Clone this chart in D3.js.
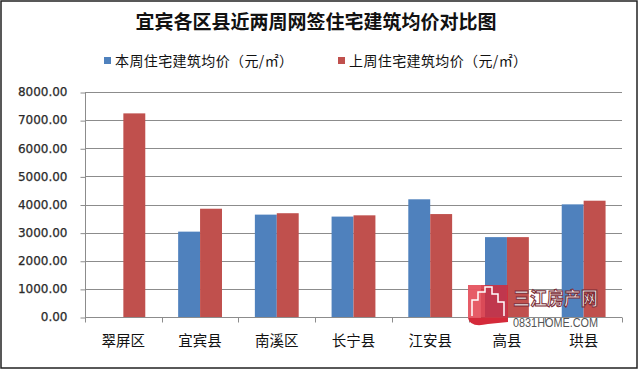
<!DOCTYPE html>
<html><head><meta charset="utf-8">
<script src="https://cdn.jsdelivr.net/npm/d3@7"></script>
<style>body{margin:0;background:#fff}svg{display:block}</style>
</head><body>
<script>
const categories = ["翠屏区","宜宾县","南溪区","长宁县","江安县","高县","珙县"];
const thisWeek = [0, 3035, 3640, 3570, 4185, 2840, 4005];
const lastWeek = [7240, 3850, 3690, 3615, 3660, 2840, 4135];
const seriesNames = ["本周住宅建筑均价（元/㎡）","上周住宅建筑均价（元/㎡）"];
const yTicks = [0,1000,2000,3000,4000,5000,6000,7000,8000];
const title = "宜宾各区县近两周网签住宅建筑均价对比图";
const colors = ["#4F81BD","#C0504D"];

(function(){
const W=640,H=370;
const svg=d3.select("body").append("svg").attr("width",W).attr("height",H);
svg.append("rect").attr("x",1).attr("y",1).attr("width",636).attr("height",367)
  .attr("fill","#fff").attr("stroke","#222").attr("stroke-width",1.5);

const pL=85,pR=622,pT=92,pB=317;
const y=d3.scaleLinear().domain([0,8000]).range([pB,pT]);
const x0=d3.scaleBand().domain(categories).range([pL,pR]).paddingInner(0).paddingOuter(0);

// gridlines
svg.append("g").selectAll("line").data(yTicks.slice(1)).join("line")
  .attr("x1",pL).attr("x2",pR).attr("y1",d=>Math.round(y(d))+0.5).attr("y2",d=>Math.round(y(d))+0.5)
  .attr("stroke","#8c8c8c").attr("stroke-width",1);

// bars
const data=categories.map((c,i)=>({c,v:[thisWeek[i],lastWeek[i]]}));
const bw=x0.bandwidth()/3.5;
const g=svg.append("g");
data.forEach(d=>{
  d.v.forEach((v,j)=>{
    if(v<=0) return;
    const cx=x0(d.c)+x0.bandwidth()/2;
    g.append("rect").attr("x",cx+(j-1)*bw).attr("width",bw)
      .attr("y",y(v)).attr("height",y(0)-y(v)).attr("fill",colors[j]);
  });
});

// y axis
const yAxis=d3.axisLeft(y).tickValues(yTicks).tickFormat(d=>d3.format(".2f")(d)).tickSize(5).tickPadding(13);
const ya=svg.append("g").attr("transform",`translate(${pL+0.5},0)`).call(yAxis);
ya.select(".domain").attr("stroke","#8c8c8c").attr("d",`M0,${Math.round(pT)+0.5}V${pB+0.5}`);
ya.selectAll(".tick line").attr("stroke","#8c8c8c").attr("transform","translate(0,0.5)");
ya.selectAll("text").attr("font-family","DejaVu Sans").attr("font-size",12).attr("fill","#2a2a2a")
  .attr("stroke","#2a2a2a").attr("stroke-width",0.25);

// x axis
const xa=svg.append("g").attr("transform",`translate(0,${pB+0.5})`);
xa.append("line").attr("x1",pL).attr("x2",pR).attr("stroke","#8c8c8c");
const xticks=d3.range(categories.length+1).map(i=>pL+i*x0.step());
xa.selectAll("line.t").data(xticks).join("line").attr("class","t")
  .attr("x1",d=>Math.round(d)+0.5).attr("x2",d=>Math.round(d)+0.5).attr("y1",0).attr("y2",5).attr("stroke","#8c8c8c");
xa.selectAll("text").data(categories).join("text")
  .attr("x",d=>x0(d)+x0.bandwidth()/2).attr("y",28).attr("text-anchor","middle")
  .attr("font-family","Noto Sans CJK SC").attr("font-size",14.5).attr("fill","#111").text(d=>d);

// title
svg.append("text").attr("x",316).attr("y",29).attr("text-anchor","middle")
  .attr("font-family","Noto Sans CJK SC").attr("font-weight","bold").attr("font-size",19).attr("fill","#111").text(title);

// legend
const legX=[104,338];
seriesNames.forEach((n,i)=>{
  svg.append("rect").attr("x",legX[i]).attr("y",57).attr("width",7).attr("height",7).attr("fill",colors[i]);
  svg.append("text").attr("x",legX[i]+11).attr("y",66).attr("font-family","Noto Sans CJK SC")
    .attr("font-size",14).attr("fill","#111").attr("textLength",178).attr("lengthAdjust","spacing").text(n);
});

// watermark
const wm=svg.append("g");
wm.append("rect").attr("x",468).attr("y",285).attr("width",40).attr("height",33).attr("fill","#d42a3a").attr("opacity",0.85);
wm.append("rect").attr("x",468).attr("y",285).attr("width",13).attr("height",33).attr("fill","#e8606c").attr("opacity",0.8);
wm.append("path").attr("d","M472,316 V300 H478 V292 H485 V287 H492 V294 H498 V302 H504 V316").attr("fill","none").attr("stroke","#fff").attr("stroke-width",1.5);
wm.append("path").attr("d","M468,318 Q470,328 488,324 L508,322 V318 Z").attr("fill","#d42a3a");
wm.append("text").attr("x",513).attr("y",305).attr("font-family","Noto Sans CJK SC").attr("font-weight","bold")
  .attr("font-size",18).attr("fill","#f2f2f2").attr("stroke","#7a2a34").attr("stroke-width",1)
  .attr("textLength",85).attr("lengthAdjust","spacingAndGlyphs").text("三江房产网");
wm.append("text").attr("x",513).attr("y",327).attr("font-family","Liberation Sans Narrow, Liberation Sans").attr("font-size",12)
  .attr("fill","#555").attr("textLength",85).attr("lengthAdjust","spacingAndGlyphs").text("0831HOME.COM");
})();
</script>
</body></html>
